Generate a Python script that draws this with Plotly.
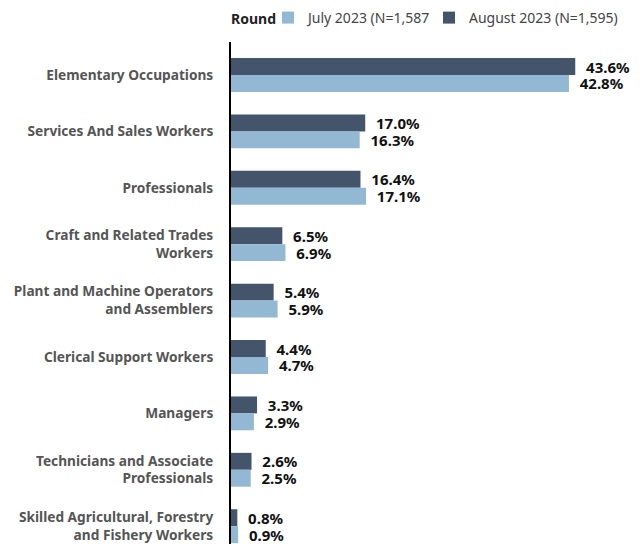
import plotly.graph_objects as go

categories = [
    "Elementary Occupations",
    "Services And Sales Workers",
    "Professionals",
    "Craft and Related Trades<br>Workers",
    "Plant and Machine Operators<br>and Assemblers",
    "Clerical Support Workers",
    "Managers",
    "Technicians and Associate<br>Professionals",
    "Skilled Agricultural, Forestry<br>and Fishery Workers",
]
july = [42.8, 16.3, 17.1, 6.9, 5.9, 4.7, 2.9, 2.5, 0.9]
august = [43.6, 17.0, 16.4, 6.5, 5.4, 4.4, 3.3, 2.6, 0.8]
series_names = ["July 2023 (N=1,587)", "August 2023 (N=1,595)"]
colors = {"july": "#93b8d4", "august": "#44546a"}

font = "Noto Sans"
L, R, T, B = 231, 3, 42, 0
W, H = 643, 544
pw = W - L - R
ph = H - T - B
leg_y = 1 + (T - 18) / ph

def lab(vals):
    return ["\u00a0\u00a0" + f"{v:.1f}%" for v in vals]

fig = go.Figure()
fig.add_trace(go.Bar(
    y=categories, x=august, orientation="h", name=series_names[1],
    marker=dict(color=colors["august"], line=dict(width=0)),
    text=lab(august), textposition="outside", constraintext="none",
    textfont=dict(family=font, size=15, color="#111111", weight="bold"),
    cliponaxis=False, legend="legend2", showlegend=True,
))
fig.add_trace(go.Bar(
    y=categories, x=july, orientation="h", name=series_names[0],
    marker=dict(color=colors["july"], line=dict(width=0)),
    text=lab(july), textposition="outside", constraintext="none",
    textfont=dict(family=font, size=15, color="#111111", weight="bold"),
    cliponaxis=False, legend="legend", showlegend=True,
))
fig.update_layout(
    width=W, height=H, showlegend=True,
    margin=dict(l=L, r=R, t=T, b=B, autoexpand=False),
    barmode="group", bargap=0.4, bargroupgap=0,
    plot_bgcolor="white", paper_bgcolor="white",
    font=dict(family=font, size=14, color="#555555"),
    legend=dict(
        orientation="h", x=(268 - L) / pw, xanchor="left",
        y=leg_y, yanchor="middle",
        font=dict(size=14, color="#444444"), itemwidth=30,
    ),
    legend2=dict(
        orientation="h", x=(429 - L) / pw, xanchor="left",
        y=leg_y, yanchor="middle",
        font=dict(size=14, color="#444444"), itemwidth=30,
    ),
    annotations=[dict(
        text="<b>Round</b>", xref="paper", yref="paper",
        x=(229 - L) / pw, xanchor="left", y=leg_y, yanchor="middle",
        showarrow=False, font=dict(family=font, size=14, color="#222222"),
    )],
    xaxis=dict(range=[0, 51.8], visible=False),
    yaxis=dict(
        type="category", categoryorder="array", categoryarray=categories,
        range=[8.316, -0.585], showline=True, linecolor="black", linewidth=2,
        ticks="", ticklabelstandoff=13,
        tickfont=dict(family=font, size=13.7, color="#555555", weight="bold"),
        showgrid=False,
    ),
)
fig.write_html("out.html", config={"displayModeBar": False},
               post_script="document.body.style.margin='0';")
